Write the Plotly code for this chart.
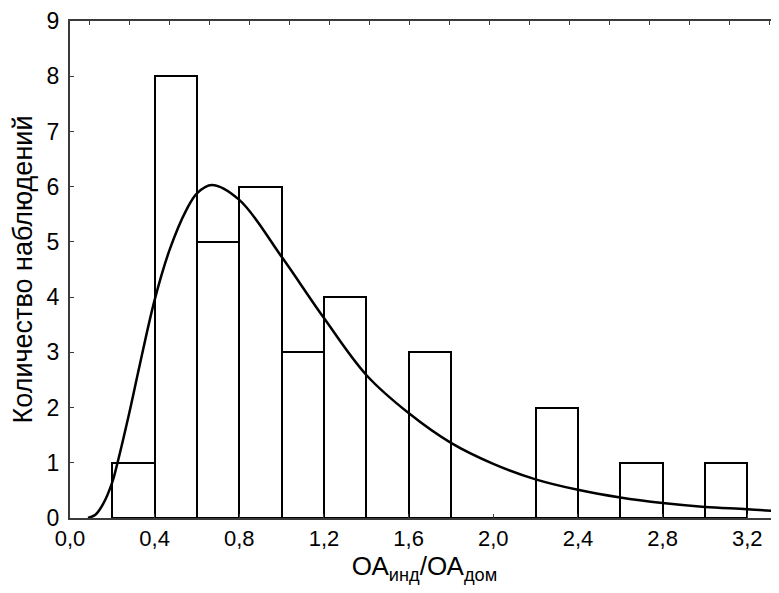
import plotly.graph_objects as go

# histogram bins (left edge, width 0.2) and counts
bin_left = [0.2, 0.4, 0.6, 0.8, 1.0, 1.2, 1.4, 1.6, 1.8, 2.0, 2.2, 2.4, 2.6, 2.8, 3.0]
counts = [1, 8, 5, 6, 3, 4, 0, 3, 0, 0, 2, 0, 1, 0, 1]
bin_w = 0.2

# fitted curve
curve_x = [0.085, 0.12, 0.156, 0.2, 0.22, 0.28, 0.33, 0.4, 0.47, 0.55, 0.6, 0.67, 0.8,
           1.0, 1.2, 1.4, 1.6, 1.8, 2.0, 2.2, 2.4, 2.6, 2.8, 3.0, 3.2, 3.35]
curve_y = [0.0, 0.06, 0.25, 0.65, 0.93, 1.9, 2.78, 3.95, 4.85, 5.58, 5.88, 6.03, 5.76,
           4.73, 3.62, 2.59, 1.9, 1.36, 0.98, 0.7, 0.51, 0.37, 0.27, 0.2, 0.16, 0.12]

x_ticks = [0.0, 0.4, 0.8, 1.2, 1.6, 2.0, 2.4, 2.8, 3.2]
x_labels = ["0,0", "0,4", "0,8", "1,2", "1,6", "2,0", "2,4", "2,8", "3,2"]

font = "Liberation Sans, Arial, sans-serif"
axis_col = "#3a3a3a"

fig = go.Figure()
fig.add_trace(go.Bar(
    x=[b + bin_w / 2 for b in bin_left], y=counts, width=bin_w,
    marker=dict(color="white", line=dict(color="black", width=2)),
    showlegend=False,
))
fig.add_trace(go.Scatter(
    x=curve_x, y=curve_y, mode="lines",
    line=dict(color="black", width=2.5, shape="spline", smoothing=1.0),
    showlegend=False,
))
# empty trace so the top tick axis gets drawn
fig.add_trace(go.Scatter(x=[], y=[], xaxis="x2", showlegend=False))

# page body has an 8px margin, so the margins below are shifted by that
fig.update_layout(
    width=779, height=593,
    margin=dict(l=62, r=8, t=13, b=83),
    paper_bgcolor="white", plot_bgcolor="white",
    font=dict(family=font, color="black", size=23),
    bargap=0,
    xaxis=dict(
        range=[0, 3.35], tickvals=x_ticks, ticktext=x_labels,
        showline=True, linecolor=axis_col, linewidth=2, mirror=True,
        ticks="inside", ticklen=4, tickcolor=axis_col,
        showgrid=False, zeroline=False, automargin=False,
        tickfont=dict(size=22),
        title=dict(text="ОА<sub>инд</sub>/ОА<sub>дом</sub>", font=dict(size=26), standoff=2),
    ),
    xaxis2=dict(
        overlaying="x", side="top", anchor="y",
        range=[-0.475, 17.25], dtick=1, tick0=0,
        showticklabels=False, ticks="inside", ticklen=4, tickcolor=axis_col,
        showgrid=False, zeroline=False, showline=False, automargin=False,
    ),
    yaxis=dict(
        range=[0, 9], dtick=1,
        showline=True, linecolor=axis_col, linewidth=2,
        ticks="inside", ticklen=4, tickcolor=axis_col,
        showgrid=False, zeroline=False, ticklabelstandoff=4, automargin=False,
        tickfont=dict(size=23),
        title=dict(text="Количество наблюдений", font=dict(size=27), standoff=6),
    ),
)

fig.write_html("out.html")
